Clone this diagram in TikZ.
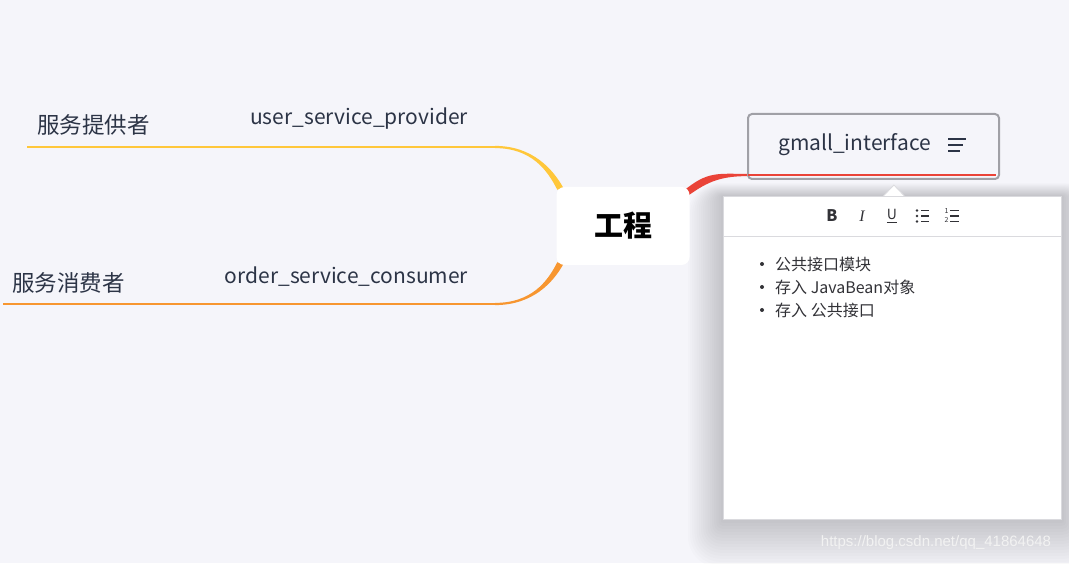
\documentclass[tikz,border=0pt]{standalone}
\usepackage{fontspec}
\setmainfont{Noto Sans CJK SC}
\newfontfamily\wmfont{Liberation Sans}
\newfontfamily\iconserif{Liberation Serif}
\usetikzlibrary{backgrounds,calc}

\definecolor{bgcol}{RGB}{245,245,250}
\definecolor{txtcol}{RGB}{44,52,70}
\definecolor{provcol}{RGB}{255,199,58}
\definecolor{conscol}{RGB}{247,150,48}
\definecolor{ifacecol}{RGB}{234,67,56}
\definecolor{boxgray}{RGB}{160,160,166}
\definecolor{notegray}{RGB}{218,218,222}
\definecolor{notetxt}{RGB}{50,50,55}

\tikzset{
  rootbox/.style={fill=white, rounded corners=8pt, minimum width=133pt,
    minimum height=78pt, inner sep=0pt, font=\fontsize{29}{34}\selectfont\bfseries},
  branchtext/.style={text=txtcol, inner sep=0pt, font=\fontsize{22.5}{27}\selectfont},
  nametext/.style={text=txtcol, inner sep=0pt, font=\fontsize{21}{25}\selectfont},
  ifacebox/.style={draw=boxgray, line width=2pt, rounded corners=4pt,
    minimum width=251pt, minimum height=65pt, inner sep=0pt},
  notebox/.style={fill=white, draw=notegray, line width=0.8pt,
    minimum width=338pt, minimum height=323pt, inner sep=0pt},
  tooltext/.style={text=notetxt, inner sep=0pt, font=\fontsize{16}{19}\selectfont},
  itemtext/.style={text=notetxt, inner sep=0pt, anchor=west, font=\fontsize{16}{19}\selectfont},
  iconline/.style={notetxt, line width=1.3pt},
}

\begin{document}
\begin{tikzpicture}[x=1pt,y=1pt]
  \useasboundingbox (0,0) rectangle (1069,563);

  \node[rootbox] (root) at (623,337) {工程};

  \node[branchtext] (provlabel) at (93.5,438) {服务提供者};
  \node[nametext] (provname) at (359,444) {user\_service\_provider};
  \coordinate (provend) at (27,416);
  \coordinate (provbend) at (495,416);

  \node[branchtext] (conslabel) at (68.5,280) {服务消费者};
  \node[nametext] (consname) at (346.5,286) {order\_service\_consumer};
  \coordinate (consend) at (3,259);
  \coordinate (consbend) at (495,259);

  \node[ifacebox] (iface) at (873.5,416.5) {};
  \node[nametext, anchor=west] (ifacename) at (778,418) {gmall\_interface};
  \coordinate (ifacestart) at ($(iface.south west)+(1,5)$);
  \coordinate (ifaceend) at ($(iface.south east)+(-4,5)$);
  \draw[ifacecol, line width=2pt] (ifacestart) -- (ifaceend);
  \foreach \y/\l in {424/18,418/15,412/12}
    \draw[txtcol, line width=1.6pt] (948,\y) -- ++(\l,0);

  \node[notebox, anchor=north west] (note) at (723,367) {};
  \fill[white] ($(note.north)+(-9,0)$) -- ($(note.north)+(1.5,11)$) -- ($(note.north)+(12,0)$) -- cycle;
  \draw[notegray, line width=0.8pt] ($(note.north)+(-9,0)$) -- ($(note.north)+(1.5,11)$) -- ($(note.north)+(12,0)$);
  \draw[notegray, line width=0.8pt] ($(note.north west)+(0,-40)$) -- ($(note.north east)+(0,-40)$);

  \node[tooltext] (tbold) at (832,347) {\bfseries B};
  \node[tooltext] (titalic) at (862,347) {\iconserif\itshape I};
  \node[tooltext, font=\fontsize{14}{17}\selectfont] (tunder) at (892,348.5) {U};
  \draw[iconline, line width=1pt] ($(tunder.south west)+(0,-2.5)$) -- ($(tunder.south east)+(0,-2.5)$);
  \foreach \y in {352.5,347,341.5} {
    \fill[notetxt] (917,\y) circle (1.4);
    \draw[iconline, line width=1.1pt] (921,\y) -- (929,\y);
  }
  \node[tooltext, font=\fontsize{7}{8}\selectfont] (tnum1) at (946.5,351.5) {1};
  \node[tooltext, font=\fontsize{7}{8}\selectfont] (tnum2) at (946.5,343) {2};
  \foreach \y in {352.5,347,341.5}
    \draw[iconline, line width=1.1pt] (950,\y) -- (959,\y);

  \foreach \t [count=\i] in {公共接口模块, 存入 JavaBean对象, 存入 公共接口} {
    \fill[notetxt] (762,322-23*\i) circle (2);
    \node[itemtext] (item\i) at (775,322-23*\i) {\t};
  }

  \node[text=white!90!gray, inner sep=0pt, font=\wmfont\fontsize{15}{18}\selectfont]
    (wm) at (936,20) {https://blog.csdn.net/qq\_41864648};

  \begin{scope}[on background layer]
    \fill[bgcol] (0,0) rectangle (1069,563);
    \foreach \s in {1,...,16}
      \fill[black, opacity=0.011, rounded corners=2*\s pt]
        ($(note.south west)+(-2.2*\s,-3*\s)$) rectangle ($(note.north east)+(2.2*\s,0.8*\s)$);
    \fill[provcol] ([yshift=1.1pt]provbend) .. controls +(38,0) and +(-10,18) .. ([xshift=7pt,yshift=-1pt]root.north west)
      -- ([xshift=1pt,yshift=-3pt]root.north west) .. controls +(-10,20) and +(36,0) .. ([yshift=-1.1pt]provbend) -- cycle;
    \draw[provcol, line width=2.2pt] (provend) -- (provbend);
    \fill[conscol] ([yshift=-1.1pt]consbend) .. controls +(38,0) and +(-10,-18) .. ([xshift=7pt,yshift=1pt]root.south west)
      -- ([xshift=1pt,yshift=3pt]root.south west) .. controls +(-10,-20) and +(36,0) .. ([yshift=1.1pt]consbend) -- cycle;
    \draw[conscol, line width=2.2pt] (consend) -- (consbend);
    \fill[ifacecol] ([xshift=-6pt,yshift=-4pt]root.north east) .. controls +(24,20) and +(-30,0) .. ([yshift=1.1pt]ifacestart)
      -- ([yshift=-1.1pt]ifacestart) .. controls +(-30,0) and +(22,16) .. ([xshift=-6pt,yshift=-12pt]root.north east) -- cycle;
  \end{scope}
\end{tikzpicture}
\end{document}
